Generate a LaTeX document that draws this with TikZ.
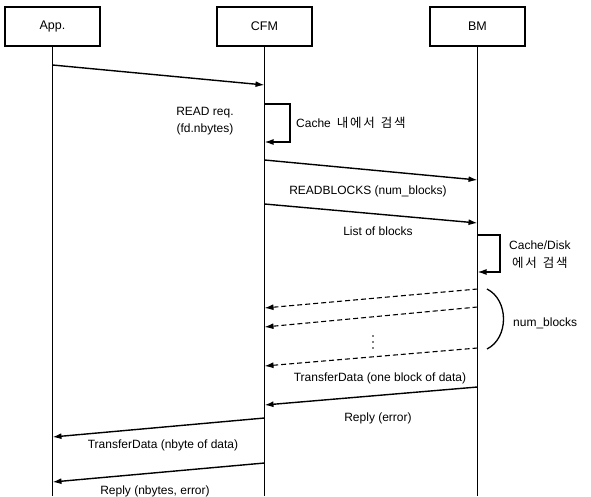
\documentclass[tikz,border=0pt]{standalone}
\usepackage{fontspec}
\setmainfont{Liberation Sans}
\newfontfamily\kr[LetterSpace=14]{Noto Sans CJK KR}
\usetikzlibrary{arrows.meta}
\begin{document}
\begin{tikzpicture}[x=1pt,y=-1pt,
  actor/.style={draw,line width=1.3pt,minimum width=95pt,minimum height=39pt,inner sep=0pt,font=\fontsize{12.5}{14}\selectfont},
  life/.style={line width=1pt},
  msg/.style={line width=1.4pt,-{Latex[length=9pt,width=6pt]}},
  dmsg/.style={line width=1.1pt,dash pattern=on 5pt off 3pt,-{Latex[length=9pt,width=6pt]}},
  lbl/.style={font=\fontsize{12}{14}\selectfont,inner sep=0pt},
  dot/.style={circle,fill,inner sep=0pt,minimum size=1.6pt}]
\useasboundingbox (0,0) rectangle (591,496);
% actors
\node[actor] (app) at (52.5,26.5) {App.};
\node[actor] (cfm) at (264.5,26.5) {CFM};
\node[actor] (bm)  at (477.5,26.5) {BM};
\coordinate (appEnd) at (52.5,496);
\coordinate (cfmEnd) at (264.5,496);
\coordinate (bmEnd) at (477.5,496);
\draw[life] (app.south) -- (appEnd);
\draw[life] (cfm.south) -- (cfmEnd);
\draw[life] (bm.south) -- (bmEnd);
% message points
\coordinate (m1s) at (52.5,65);   \coordinate (m1e) at (264.5,85);
\coordinate (l1s) at (264.5,104); \coordinate (l1a) at (290,104);
\coordinate (l1b) at (290,142);   \coordinate (l1e) at (264.5,142);
\coordinate (m2s) at (264.5,160); \coordinate (m2e) at (477.5,180);
\coordinate (m3s) at (264.5,204); \coordinate (m3e) at (477.5,223);
\coordinate (l2s) at (477.5,235); \coordinate (l2a) at (500,235);
\coordinate (l2b) at (500,272);   \coordinate (l2e) at (477.5,272);
\coordinate (d1s) at (477.5,289); \coordinate (d1e) at (264.5,308);
\coordinate (d2s) at (477.5,307); \coordinate (d2e) at (264.5,327);
\coordinate (d3s) at (477.5,348); \coordinate (d3e) at (264.5,366);
\coordinate (b1) at (487,289);    \coordinate (b2) at (487,349);
\coordinate (m4s) at (477.5,387); \coordinate (m4e) at (264.5,405);
\coordinate (m5s) at (264.5,418); \coordinate (m5e) at (52.5,437);
\coordinate (m6s) at (264.5,463); \coordinate (m6e) at (52.5,482);
% messages
\draw[msg] (m1s) -- (m1e);
\node[lbl] (t1) at (205,113) {READ req.};
\node[lbl] (t1b) at (205,129) {(fd.nbytes)};
\draw[msg] (l1s) -- (l1a) -- (l1b) -- (l1e);
\node[lbl,anchor=west] (t2) at (296,123) {Cache\hspace{6pt}{\kr\fontsize{12.5}{14}\selectfont 내에서\hspace{6pt}검색}};
\draw[msg] (m2s) -- (m2e);
\node[lbl] (t3) at (368,191) {READBLOCKS (num\_blocks)};
\draw[msg] (m3s) -- (m3e);
\node[lbl] (t4) at (378,231) {List of blocks};
\draw[msg] (l2s) -- (l2a) -- (l2b) -- (l2e);
\node[lbl,anchor=west] (t5) at (509,245) {Cache/Disk};
\node[lbl,anchor=west] (t5b) at (512,263) {\kr\fontsize{12.5}{14}\selectfont 에서\hspace{6pt}검색};
\draw[dmsg] (d1s) -- (d1e);
\draw[dmsg] (d2s) -- (d2e);
\node[dot] (v1) at (373,336) {};
\node[dot] (v2) at (373,342) {};
\node[dot] (v3) at (373,348) {};
\draw[dmsg] (d3s) -- (d3e);
\draw[line width=1.3pt] (b1) .. controls (509,300) and (509,338) .. (b2);
\node[lbl,anchor=west] (t6) at (513,323) {num\_blocks};
\node[lbl] (t7) at (380,378) {TransferData (one block of data)};
\draw[msg] (m4s) -- (m4e);
\node[lbl] (t8) at (378,418) {Reply (error)};
\draw[msg] (m5s) -- (m5e);
\node[lbl] (t9) at (163,445) {TransferData (nbyte of data)};
\draw[msg] (m6s) -- (m6e);
\node[lbl] (t10) at (155,491) {Reply (nbytes, error)};
\end{tikzpicture}
\end{document}
